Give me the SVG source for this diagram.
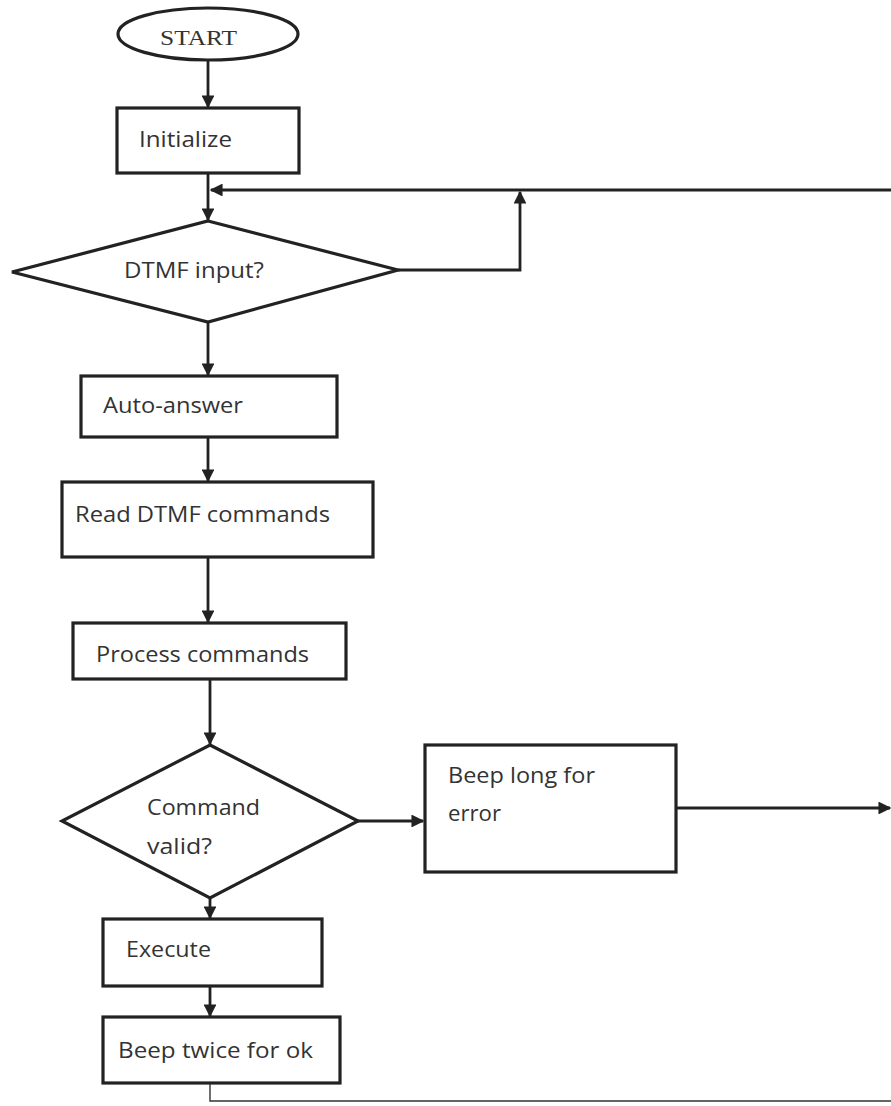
<svg xmlns="http://www.w3.org/2000/svg" width="891" height="1106" viewBox="0 0 891 1106">
<style>
.box{fill:#fff;stroke:#222;stroke-width:3.2}
.ln{fill:none;stroke:#222;stroke-width:2.8}
.t{font-family:"Open Sans","Noto Sans",sans-serif;font-size:22.5px;fill:#333}
.st{font-family:"Liberation Serif",serif;font-size:20px;fill:#333}
</style>
<defs>
<marker id="ah" viewBox="0 0 10 10" refX="9" refY="5" markerWidth="4.6" markerHeight="4.6" orient="auto" markerUnits="strokeWidth">
<path d="M0,0 L10,5 L0,10 z" fill="#222"/>
</marker>
</defs>
<rect width="891" height="1106" fill="#fff"/>
<g id="connectors">
<line class="ln" x1="208" y1="60" x2="208" y2="107" marker-end="url(#ah)"/>
<line class="ln" x1="208" y1="173" x2="208" y2="220" marker-end="url(#ah)"/>
<line class="ln" x1="891" y1="190" x2="211" y2="190" marker-end="url(#ah)"/>
<polyline class="ln" points="398,270 520,270 520,192" marker-end="url(#ah)"/>
<line class="ln" x1="208" y1="322" x2="208" y2="375" marker-end="url(#ah)"/>
<line class="ln" x1="208" y1="437" x2="208" y2="481" marker-end="url(#ah)"/>
<line class="ln" x1="208" y1="557" x2="208" y2="622" marker-end="url(#ah)"/>
<line class="ln" x1="210" y1="679" x2="210" y2="744" marker-end="url(#ah)"/>
<line class="ln" x1="358" y1="821" x2="423" y2="821" marker-end="url(#ah)"/>
<line class="ln" x1="676" y1="808" x2="890" y2="808" marker-end="url(#ah)"/>
<line class="ln" x1="210" y1="898" x2="210" y2="918" marker-end="url(#ah)"/>
<line class="ln" x1="210" y1="986" x2="210" y2="1016" marker-end="url(#ah)"/>
<polyline fill="none" stroke="#333" stroke-width="1.4" points="210,1083 210,1101 891,1101"/>
</g>
<g id="start">
<ellipse class="box" cx="208" cy="34" rx="90" ry="26"/>
<text class="st" x="160" y="45" textLength="77" lengthAdjust="spacingAndGlyphs">START</text>
</g>
<g id="initialize">
<rect class="box" x="117" y="108" width="182" height="65"/>
<text class="t" x="139" y="147" textLength="93" lengthAdjust="spacingAndGlyphs">Initialize</text>
</g>
<g id="dtmf-input">
<polygon class="box" points="208,221 398,270 208,322 12,272"/>
<text class="t" x="124" y="278" textLength="140" lengthAdjust="spacingAndGlyphs">DTMF input?</text>
</g>
<g id="auto-answer">
<rect class="box" x="81" y="376" width="256" height="61"/>
<text class="t" x="103" y="413" textLength="140" lengthAdjust="spacingAndGlyphs">Auto-answer</text>
</g>
<g id="read-dtmf">
<rect class="box" x="62" y="482" width="311" height="75"/>
<text class="t" x="75" y="522" textLength="255" lengthAdjust="spacingAndGlyphs">Read DTMF commands</text>
</g>
<g id="process">
<rect class="box" x="73" y="623" width="273" height="56"/>
<text class="t" x="96" y="662" textLength="213" lengthAdjust="spacingAndGlyphs">Process commands</text>
</g>
<g id="command-valid">
<polygon class="box" points="210,745 358,821 210,898 62,821"/>
<text class="t" x="147" y="815" textLength="113" lengthAdjust="spacingAndGlyphs">Command</text>
<text class="t" x="147" y="854" textLength="65" lengthAdjust="spacingAndGlyphs">valid?</text>
</g>
<g id="beep-long">
<rect class="box" x="425" y="745" width="251" height="127"/>
<text class="t" x="448" y="783" textLength="147" lengthAdjust="spacingAndGlyphs">Beep long for</text>
<text class="t" x="448" y="821" textLength="53" lengthAdjust="spacingAndGlyphs">error</text>
</g>
<g id="execute">
<rect class="box" x="103" y="919" width="219" height="67"/>
<text class="t" x="126" y="957" textLength="85" lengthAdjust="spacingAndGlyphs">Execute</text>
</g>
<g id="beep-twice">
<rect class="box" x="103" y="1017" width="237" height="66"/>
<text class="t" x="118" y="1058" textLength="195" lengthAdjust="spacingAndGlyphs">Beep twice for ok</text>
</g>
</svg>
